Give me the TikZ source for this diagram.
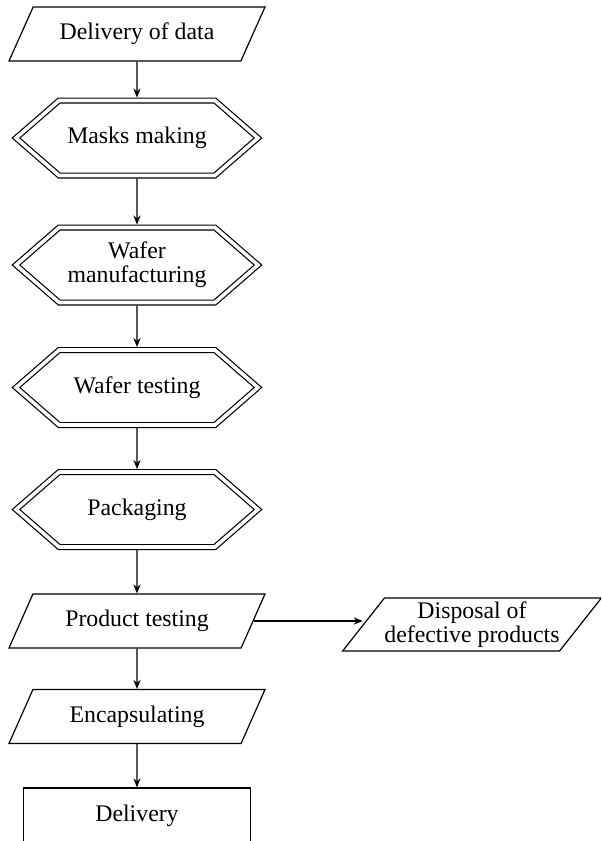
\documentclass[tikz,border=0pt]{standalone}
\usepackage{fontspec}
\setmainfont{Liberation Serif}
\usetikzlibrary{shapes.geometric,shapes.symbols,arrows.meta}

\begin{document}
\begin{tikzpicture}[x=0.5pt, y=-0.5pt, line width=0.6pt,
    font=\fontsize{11.9pt}{12pt}\selectfont,
    iobox/.style={draw, trapezium, trapezium left angle=47, trapezium right angle=133,
      trapezium stretches body, minimum width=128pt, minimum height=27pt,
      inner sep=1pt, align=center},
    procbox/.style={draw, signal, signal to=west and east, signal pointer angle=82,
      double, double distance=1.8pt, outer sep=1.5pt, minimum width=121pt,
      minimum height=37.5pt, inner sep=1pt, align=center},
    endbox/.style={draw, rectangle, minimum width=113.5pt, minimum height=28pt},
    flow/.style={-{Stealth[length=4.5pt, width=3.6pt]}}]
  \clip (0,0) rectangle (601,841);
  % main line
  \node[iobox] (data) at (137,34) {Delivery of data};
  \node[procbox] (masks) at (137,138) {Masks making};
  \node[procbox] (wafer) at (137,265) {Wafer\\manufacturing};
  \node[procbox] (wtest) at (137,387.5) {Wafer testing};
  \node[procbox] (pack) at (137,509.5) {Packaging};
  \node[iobox] (ptest) at (137,621) {Product testing};
  \node[iobox] (encap) at (137,716.5) {Encapsulating};
  \node[endbox] (deliv) at (137,816) {Delivery};
  % side branch
  \node[iobox, trapezium left angle=50, trapezium right angle=130, inner xsep=0pt,
    minimum width=124pt, minimum height=26.5pt] (disp)
    at (472,624.5) {Disposal of\\defective products};

  \draw[flow] (data) -- (masks);
  \draw[flow] (masks) -- (wafer);
  \draw[flow] (wafer) -- (wtest);
  \draw[flow] (wtest) -- (pack);
  \draw[flow] (pack) -- (ptest);
  \draw[flow] (ptest) -- (encap);
  \draw[flow] (encap) -- (deliv);
  \draw[flow] (ptest.east) -- (ptest.east -| disp.west);
\end{tikzpicture}
\end{document}
